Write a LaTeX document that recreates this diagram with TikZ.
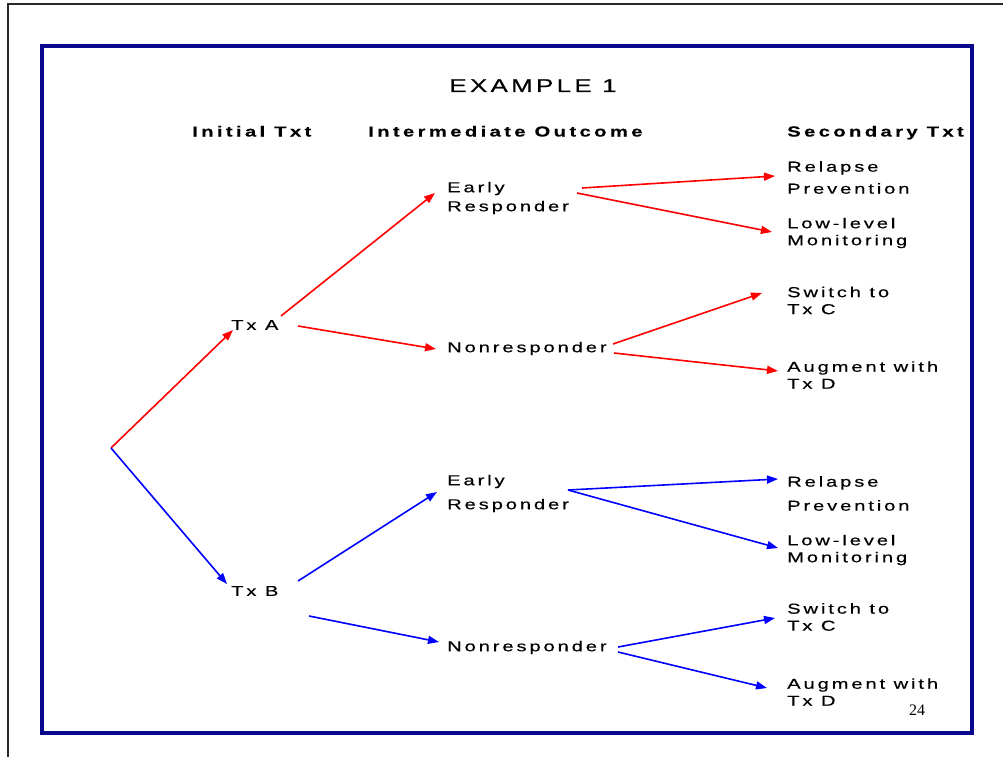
\documentclass[tikz,border=0pt]{standalone}
\usepackage{fontspec}
\setmainfont{Liberation Sans}[FakeStretch=1.4,LetterSpace=20,FakeBold=0.4]
\newfontfamily\hdrfont{Liberation Sans Bold}[FakeStretch=1.4,LetterSpace=23,FakeBold=0.2]
\newfontfamily\titlefont{Liberation Sans}[FakeStretch=1.4,LetterSpace=18,FakeBold=0.4]
\newfontfamily\pagenumfont{Liberation Serif}
\usetikzlibrary{arrows.meta}
\definecolor{navyframe}{RGB}{8,8,140}
\definecolor{pageline}{RGB}{40,40,40}
\begin{document}
\begin{tikzpicture}[x=1pt,y=-1pt,
  lbl/.style={font=\fontsize{14.4}{17}\selectfont, inner sep=0pt, anchor=west, align=left},
  hdr/.style={font=\hdrfont\fontsize{14.5}{18}\selectfont, inner sep=0pt, anchor=base west},
  ttl/.style={font=\titlefont\fontsize{18.5}{22}\selectfont, inner sep=0pt, anchor=base},
  redarrow/.style={draw=red, line width=1.6pt, -{Triangle[length=11pt,width=8pt]}},
  bluearrow/.style={draw=blue, line width=1.6pt, -{Triangle[length=11pt,width=8pt]}}]
\useasboundingbox (0,0) rectangle (1003,757);
\fill[white] (0,0) rectangle (1003,757);
% page edges
\draw[pageline, line width=1.5pt] (8,757) -- (8,4) -- (1003,4);
% frame
\draw[navyframe, line width=4pt] (42,46) rectangle (972,733);
% title and headers
\node[ttl] (title) at (533,92) {EXAMPLE 1};
\node[hdr] (h1) at (192,136.5) {Initial Txt};
\node[hdr] (h2) at (368,136.5) {Intermediate Outcome};
\node[hdr] (h3) at (787,136.5) {Secondary Txt};
% nodes
\node[lbl] (txa) at (231,325) {Tx A};
\node[lbl] (txb) at (231,591) {Tx B};
\node[lbl] (er1) at (447,198) {Early\\[2pt]Responder};
\node[lbl] (nr1) at (447,348.5) {Nonresponder};
\node[lbl] (rp1) at (787,177.5) {Relapse\\[5pt]Prevention};
\node[lbl] (lm1) at (787,233) {Low-level\\Monitoring};
\node[lbl] (sc1) at (787,300.5) {Switch to\\Tx C};
\node[lbl] (ad1) at (787,375) {Augment with\\Tx D};
\node[lbl] (er2) at (447,493.5) {Early\\[7pt]Responder};
\node[lbl] (nr2) at (447,647.5) {Nonresponder};
\node[lbl] (rp2) at (787,493.5) {Relapse\\[7pt]Prevention};
\node[lbl] (lm2) at (787,550) {Low-level\\Monitoring};
\node[lbl] (sc2) at (787,617) {Switch to\\Tx C};
\node[lbl] (ad2) at (787,692) {Augment with\\Tx D};
\node[font=\pagenumfont\fontsize{16}{19}\selectfont, inner sep=0pt] (pg) at (917,710) {24};
% connector end points
\coordinate (root) at (111,448);
\coordinate (txa-in) at (233,330);
\coordinate (txa-up) at (281,316);
\coordinate (txa-dn) at (298,326);
\coordinate (er1-in) at (435,193);
\coordinate (nr1-in) at (436,349);
\coordinate (er1-o1) at (582,188);
\coordinate (er1-o2) at (577,193);
\coordinate (rp1-in) at (775,176);
\coordinate (lm1-in) at (772,232);
\coordinate (nr1-o1) at (613,344);
\coordinate (nr1-o2) at (614,353);
\coordinate (sc1-in) at (762,293);
\coordinate (ad1-in) at (778,371);
\coordinate (txb-in) at (227,584);
\coordinate (txb-up) at (298,581);
\coordinate (txb-dn) at (309,616);
\coordinate (er2-in) at (437,492);
\coordinate (nr2-in) at (439,642);
\coordinate (er2-out) at (568,490);
\coordinate (rp2-in) at (778,479);
\coordinate (lm2-in) at (778,548);
\coordinate (nr2-o1) at (618,647);
\coordinate (nr2-o2) at (618,652);
\coordinate (sc2-in) at (775,618);
\coordinate (ad2-in) at (767,688);
% red branch
\draw[redarrow] (root) -- (txa-in);
\draw[redarrow] (txa-up) -- (er1-in);
\draw[redarrow] (txa-dn) -- (nr1-in);
\draw[redarrow] (er1-o1) -- (rp1-in);
\draw[redarrow] (er1-o2) -- (lm1-in);
\draw[redarrow] (nr1-o1) -- (sc1-in);
\draw[redarrow] (nr1-o2) -- (ad1-in);
% blue branch
\draw[bluearrow] (root) -- (txb-in);
\draw[bluearrow] (txb-up) -- (er2-in);
\draw[bluearrow] (txb-dn) -- (nr2-in);
\draw[bluearrow] (er2-out) -- (rp2-in);
\draw[bluearrow] (er2-out) -- (lm2-in);
\draw[bluearrow] (nr2-o1) -- (sc2-in);
\draw[bluearrow] (nr2-o2) -- (ad2-in);
\end{tikzpicture}
\end{document}
